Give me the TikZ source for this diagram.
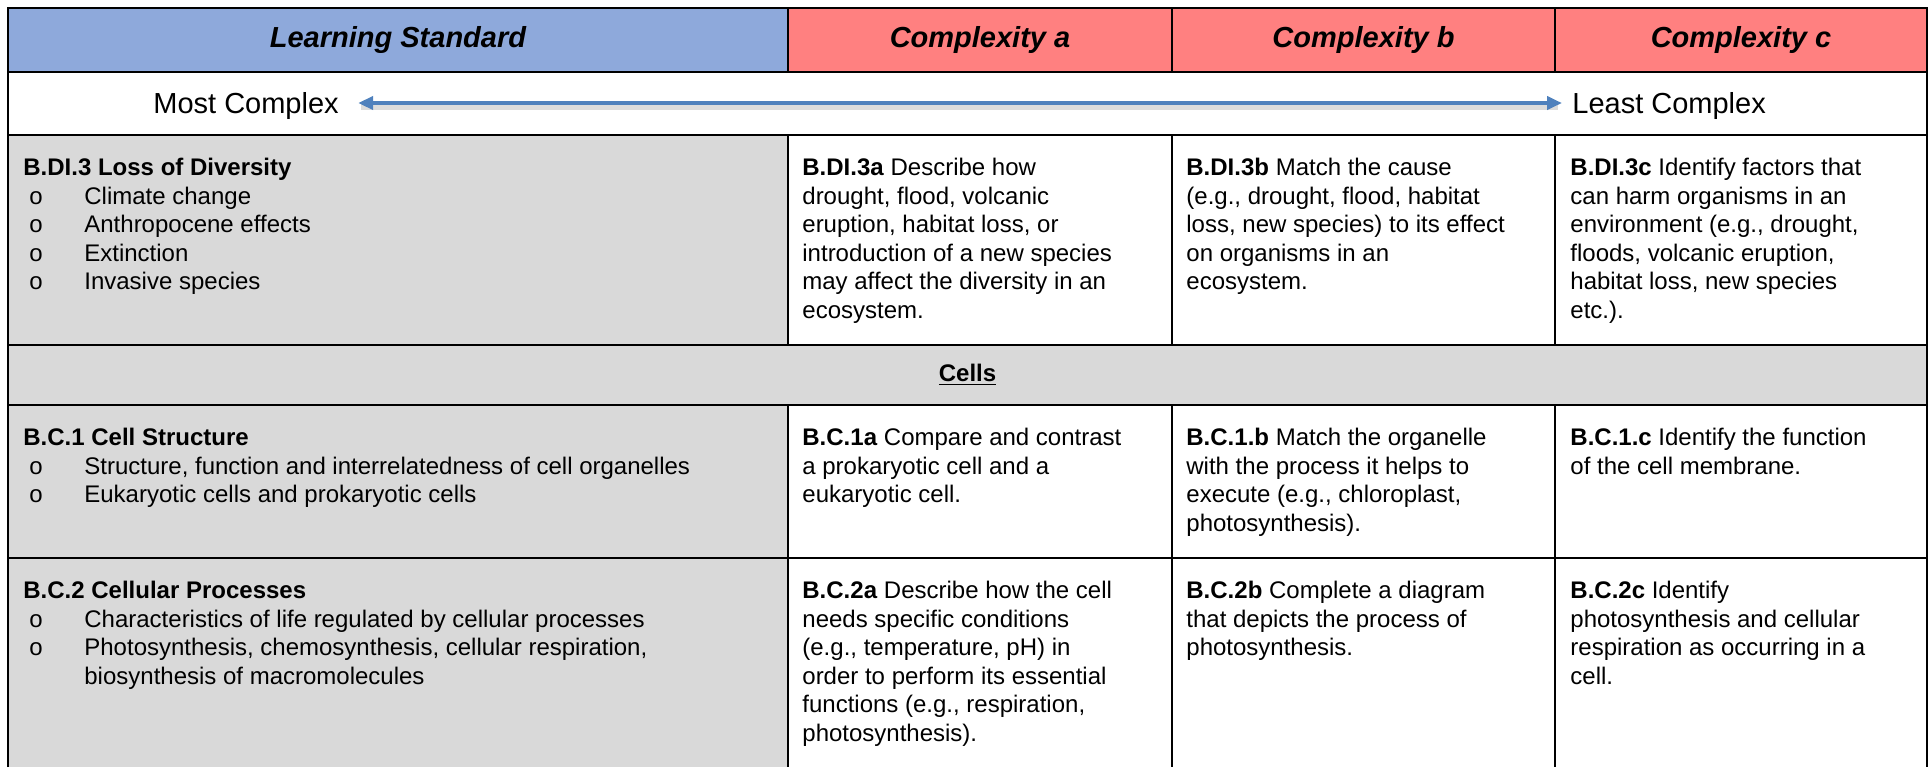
\documentclass[tikz,border=0pt]{standalone}
\usepackage{fontspec}
\setmainfont{Liberation Sans}
\usetikzlibrary{arrows.meta}

\definecolor{headblue}{RGB}{142,169,219}
\definecolor{headred}{RGB}{255,128,128}
\definecolor{cellgray}{RGB}{217,217,217}
\definecolor{arrowblue}{RGB}{79,129,189}

\newcommand{\lsitem}{\makebox[30.5pt][l]{\hspace{3pt}o}}

\tikzset{
  tableline/.style={line width=1.35pt},
  headtext/.style={font=\fontsize{14.5}{16}\selectfont\bfseries\itshape},
  endtext/.style={font=\fontsize{14.5}{17}\selectfont, inner sep=0pt, text depth=0pt},
  celltext/.style={anchor=north west, inner sep=0pt, align=left,
    font=\fontsize{12}{14.25}\selectfont},
  complexarrow/.style={{Triangle[length=7.5pt,width=6.5pt]}-{Triangle[length=7.5pt,width=6.5pt]},
    line width=2pt, arrowblue},
}

\begin{document}
\begin{tikzpicture}[x=0.5pt, y=-0.5pt]
    \useasboundingbox (0,0) rectangle (1931,767);

    % Backgrounds
    \fill[headblue] (8,8) rectangle (788,72);
    \fill[headred] (788,8) rectangle (1927,72);
    \fill[cellgray] (8,135) rectangle (788,767);
    \fill[cellgray] (788,345) rectangle (1927,405);

    % Table lines
    \draw[tableline] (8,767) -- (8,8) -- (1927,8) -- (1927,767);
    \foreach \y in {72,135,345,405,558}
        \draw[tableline] (8,\y) -- (1927,\y);
    \foreach \x in {788,1172,1555} {
        \draw[tableline] (\x,8) -- (\x,72);
        \draw[tableline] (\x,135) -- (\x,345);
        \draw[tableline] (\x,405) -- (\x,767);
    }

    % Header
    \node[headtext] (ls) at (398,40) {Learning Standard};
    \node[headtext] (ca) at (980,40) {Complexity a};
    \node[headtext] (cb) at (1363.5,40) {Complexity b};
    \node[headtext] (cc) at (1741,40) {Complexity c};

    % Complexity scale
    \node[endtext, anchor=west] (most) at (153,103) {Most Complex};
    \node[endtext, anchor=west] (least) at (1572,103) {Least Complex};
    \draw[line width=3pt, black!45, opacity=0.3, shorten <=11pt, shorten >=7pt]
        ([yshift=-2pt]most.east) -- ([yshift=-2pt]least.west);
    \draw[complexarrow, shorten <=9.5pt, shorten >=5pt] (most) -- (least);

    % Loss of diversity
    \node[celltext] (bdi3) at (23,158) {\textbf{B.DI.3 Loss of Diversity}\\
        \lsitem Climate change\\
        \lsitem Anthropocene effects\\
        \lsitem Extinction\\
        \lsitem Invasive species};
    \node[celltext] (bdi3a) at (802,158) {\textbf{B.DI.3a} Describe how\\
        drought, flood, volcanic\\
        eruption, habitat loss, or\\
        introduction of a new species\\
        may affect the diversity in an\\
        ecosystem.};
    \node[celltext] (bdi3b) at (1186,158) {\textbf{B.DI.3b} Match the cause\\
        (e.g., drought, flood, habitat\\
        loss, new species) to its effect\\
        on organisms in an\\
        ecosystem.};
    \node[celltext] (bdi3c) at (1570,158) {\textbf{B.DI.3c} Identify factors that\\
        can harm organisms in an\\
        environment (e.g., drought,\\
        floods, volcanic eruption,\\
        habitat loss, new species\\
        etc.).};

    % Cells
    \node[font=\fontsize{12}{14.25}\selectfont] (cells) at (967.5,375) {\underline{\textbf{Cells}}};

    % Cell structure
    \node[celltext] (bc1) at (23,428) {\textbf{B.C.1 Cell Structure}\\
        \lsitem Structure, function and interrelatedness of cell organelles\\
        \lsitem Eukaryotic cells and prokaryotic cells};
    \node[celltext] (bc1a) at (802,428) {\textbf{B.C.1a} Compare and contrast\\
        a prokaryotic cell and a\\
        eukaryotic cell.};
    \node[celltext] (bc1b) at (1186,428) {\textbf{B.C.1.b} Match the organelle\\
        with the process it helps to\\
        execute (e.g., chloroplast,\\
        photosynthesis).};
    \node[celltext] (bc1c) at (1570,428) {\textbf{B.C.1.c} Identify the function\\
        of the cell membrane.};

    % Cellular processes
    \node[celltext] (bc2) at (23,581) {\textbf{B.C.2 Cellular Processes}\\
        \lsitem Characteristics of life regulated by cellular processes\\
        \lsitem Photosynthesis, chemosynthesis, cellular respiration,\\
        \hspace{30.5pt}biosynthesis of macromolecules};
    \node[celltext] (bc2a) at (802,581) {\textbf{B.C.2a} Describe how the cell\\
        needs specific conditions\\
        (e.g., temperature, pH) in\\
        order to perform its essential\\
        functions (e.g., respiration,\\
        photosynthesis).};
    \node[celltext] (bc2b) at (1186,581) {\textbf{B.C.2b} Complete a diagram\\
        that depicts the process of\\
        photosynthesis.};
    \node[celltext] (bc2c) at (1570,581) {\textbf{B.C.2c} Identify\\
        photosynthesis and cellular\\
        respiration as occurring in a\\
        cell.};
\end{tikzpicture}
\end{document}
